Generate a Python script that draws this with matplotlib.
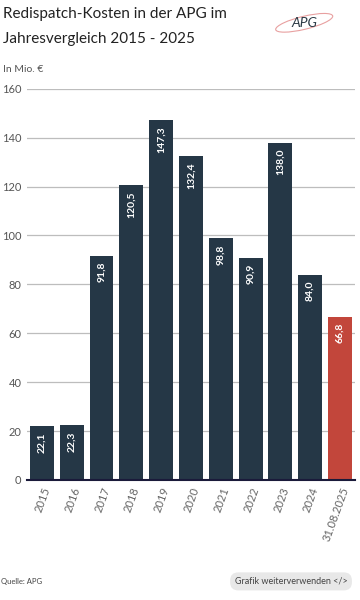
import numpy as np
import matplotlib.pyplot as plt
from matplotlib.patches import Ellipse

# Data
labels = ["2015", "2016", "2017", "2018", "2019", "2020", "2021", "2022",
          "2023", "2024", "31.08.2025"]
values = [22.1, 22.3, 91.8, 120.5, 147.3, 132.4, 98.8, 90.9, 138.0, 84.0, 66.8]
value_text = ["22,1", "22,3", "91,8", "120,5", "147,3", "132,4", "98,8",
              "90,9", "138,0", "84,0", "66,8"]
yticks = [0, 20, 40, 60, 80, 100, 120, 140, 160]

dark = "#253746"
red = "#c2463b"
colors = [dark] * 10 + [red]

plt.rcParams['font.family'] = ['Lato', 'DejaVu Sans']

fig = plt.figure(figsize=(3.6, 6), dpi=100)
ax = fig.add_axes([0.075, 0.2, 0.911, 0.652])

x = np.arange(len(values))
bars = ax.bar(x, values, width=0.8, color=colors, zorder=3)

# value labels inside bars, rotated
for b, t in zip(bars, value_text):
    ax.text(b.get_x() + b.get_width() / 2, b.get_height() - 2.5, t,
            rotation=90, ha="center", va="top", color="white",
            fontsize=7.5, fontweight="bold", zorder=4)

ax.set_xlim(-0.5, 10.5)
ax.set_ylim(0, 160)
ax.set_yticks(yticks)
ax.yaxis.grid(True, color="#bdbdbd", linewidth=0.9, zorder=0)
ax.set_xticks(x)
ax.set_xticklabels(labels, rotation=70, ha="right", rotation_mode="anchor",
                   color="#666666", fontsize=8)
ax.tick_params(axis="y", length=0, labelsize=8, labelcolor="#555555", pad=4)
ax.tick_params(axis="x", length=0, pad=4)
for s in ["top", "right", "left"]:
    ax.spines[s].set_visible(False)
ax.spines["bottom"].set_color("#1a1a3a")
ax.spines["bottom"].set_linewidth(1.5)
ax.spines["bottom"].set_zorder(5)

# Title and subtitle
fig.text(0.008, 0.988, "Redispatch-Kosten in der APG im\nJahresvergleich 2015 - 2025",
         ha="left", va="top", fontsize=11, color="#222222", linespacing=1.95)
fig.text(0.008, 0.885, "In Mio. €", ha="left", va="center", fontsize=7.5,
         color="#555555")

# APG logo (simple text version)
fig.patches.append(Ellipse((0.845, 0.962), 0.16, 0.022, angle=8,
                           transform=fig.transFigure, fill=False,
                           edgecolor="#e8a0a0", linewidth=0.8))
fig.text(0.845, 0.962, "APG", ha="center", va="center", fontsize=10,
         color="#2b3a45", style="italic")

# Footer
fig.text(0.004, 0.031, "Quelle: APG", ha="left", va="center", fontsize=5.5,
         color="#444444")
fig.text(0.965, 0.031, "Grafik weiterverwenden </>", ha="right", va="center",
         fontsize=6.5, color="#444444",
         bbox=dict(boxstyle="round,pad=0.5,rounding_size=0.9",
                   facecolor="#e8e8e8", edgecolor="none"))

fig.savefig("out.png", dpi=100)
